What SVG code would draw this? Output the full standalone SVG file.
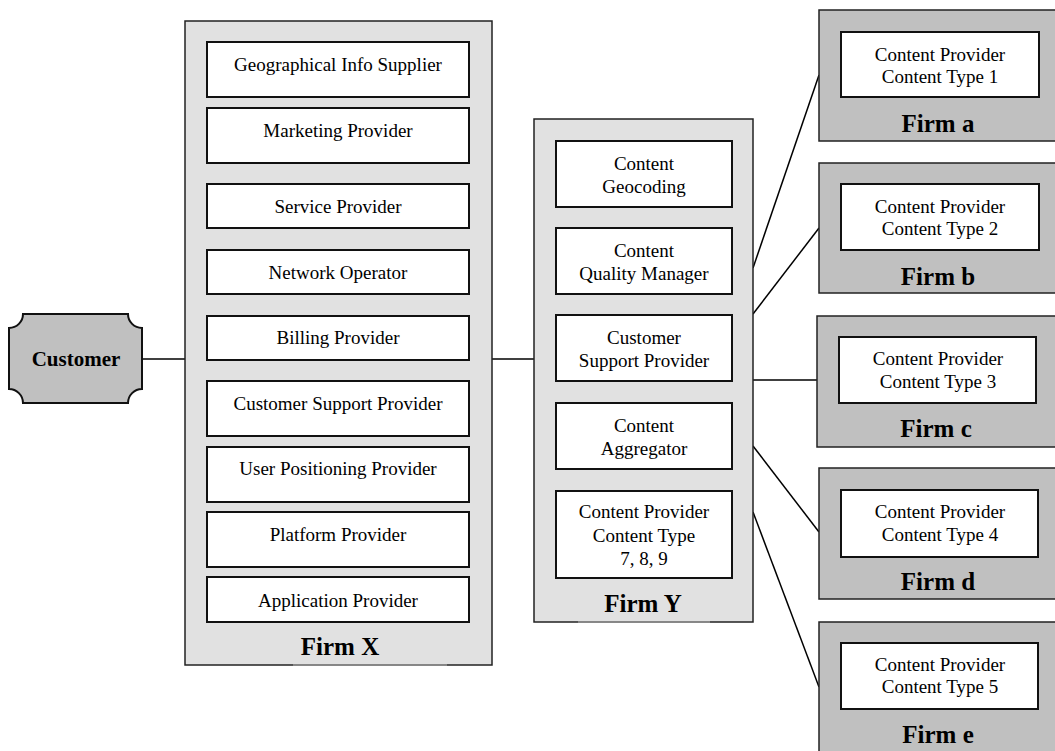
<svg xmlns="http://www.w3.org/2000/svg" width="1055" height="751" viewBox="0 0 1055 751">
<style>
  text { font-family: "Liberation Serif", "Times New Roman", serif; fill: #000; text-anchor: middle; }
  .t { font-size: 19px; }
  .lbl { font-size: 25px; font-weight: bold; }
  .cust { font-size: 21px; font-weight: bold; }
  .outerL { fill: #e1e1e1; stroke: #222; stroke-width: 1.5; }
  .outerD { fill: #c0c0c0; stroke: #222; stroke-width: 1.5; }
  .inner { fill: #fff; stroke: #111; stroke-width: 2; }
  .conn line { stroke: #000; stroke-width: 1.5; }
</style>
<rect width="1055" height="751" fill="#fff"/>

<g class="conn" id="connectors">
  <line x1="142" y1="359" x2="185" y2="359"/>
  <line x1="492" y1="359" x2="534" y2="359"/>
  <line x1="753" y1="268" x2="819" y2="75"/>
  <line x1="753" y1="314" x2="819" y2="228"/>
  <line x1="753" y1="380" x2="817" y2="380"/>
  <line x1="753" y1="446" x2="819" y2="532"/>
  <line x1="753" y1="512" x2="819" y2="687"/>
</g>

<g id="customer">
  <path d="M23,314 L128,314 A14,14 0 0 0 142,328 L142,389 A14,14 0 0 0 128,403 L23,403 A14,14 0 0 0 9,389 L9,328 A14,14 0 0 0 23,314 Z" fill="#c0c0c0" stroke="#111" stroke-width="2"/>
  <text class="cust" x="76" y="366">Customer</text>
</g>

<g id="firmX">
  <rect class="outerL" x="185" y="21" width="307" height="644"/>
  <line x1="293" y1="665" x2="447" y2="665" stroke="#999" stroke-width="1.5"/>
  <text class="lbl" x="340" y="655">Firm X</text>
</g>
<g id="x-geo"><rect class="inner" x="207" y="42" width="262" height="55"/><text class="t" x="338" y="71">Geographical Info Supplier</text></g>
<g id="x-marketing"><rect class="inner" x="207" y="108" width="262" height="55"/><text class="t" x="338" y="137">Marketing Provider</text></g>
<g id="x-service"><rect class="inner" x="207" y="184" width="262" height="44"/><text class="t" x="338" y="213">Service Provider</text></g>
<g id="x-network"><rect class="inner" x="207" y="250" width="262" height="44"/><text class="t" x="338" y="279">Network Operator</text></g>
<g id="x-billing"><rect class="inner" x="207" y="316" width="262" height="44"/><text class="t" x="338" y="344">Billing Provider</text></g>
<g id="x-custsupport"><rect class="inner" x="207" y="381" width="262" height="55"/><text class="t" x="338" y="410">Customer Support Provider</text></g>
<g id="x-userpos"><rect class="inner" x="207" y="447" width="262" height="55"/><text class="t" x="338" y="475">User Positioning Provider</text></g>
<g id="x-platform"><rect class="inner" x="207" y="512" width="262" height="55"/><text class="t" x="338" y="541">Platform Provider</text></g>
<g id="x-application"><rect class="inner" x="207" y="577" width="262" height="45"/><text class="t" x="338" y="607">Application Provider</text></g>

<g id="firmY">
  <rect class="outerL" x="534" y="119" width="219" height="503"/>
  <line x1="578" y1="622" x2="710" y2="622" stroke="#999" stroke-width="1.5"/>
  <text class="lbl" x="643" y="612">Firm Y</text>
</g>
<g id="y-geocoding"><rect class="inner" x="556" y="141" width="176" height="66"/><text class="t" x="644" y="170">Content</text><text class="t" x="644" y="193">Geocoding</text></g>
<g id="y-quality"><rect class="inner" x="556" y="228" width="176" height="66"/><text class="t" x="644" y="257">Content</text><text class="t" x="644" y="280">Quality Manager</text></g>
<g id="y-custsupport"><rect class="inner" x="556" y="315" width="176" height="66"/><text class="t" x="644" y="344">Customer</text><text class="t" x="644" y="367">Support Provider</text></g>
<g id="y-aggregator"><rect class="inner" x="556" y="403" width="176" height="66"/><text class="t" x="644" y="432">Content</text><text class="t" x="644" y="455">Aggregator</text></g>
<g id="y-provider789"><rect class="inner" x="556" y="491" width="176" height="87"/><text class="t" x="644" y="518">Content Provider</text><text class="t" x="644" y="542">Content Type</text><text class="t" x="644" y="565">7, 8, 9</text></g>

<g id="firmA">
  <rect class="outerD" x="819" y="10" width="250" height="131"/>
  <rect class="inner" x="841" y="32" width="198" height="65"/>
  <text class="t" x="940" y="61">Content Provider</text><text class="t" x="940" y="83">Content Type 1</text>
  <text class="lbl" x="938" y="132">Firm a</text>
</g>
<g id="firmB">
  <rect class="outerD" x="819" y="163" width="250" height="130"/>
  <rect class="inner" x="841" y="184" width="198" height="66"/>
  <text class="t" x="940" y="213">Content Provider</text><text class="t" x="940" y="235">Content Type 2</text>
  <text class="lbl" x="938" y="285">Firm b</text>
</g>
<g id="firmC">
  <rect class="outerD" x="817" y="316" width="250" height="131"/>
  <rect class="inner" x="839" y="337" width="197" height="66"/>
  <text class="t" x="938" y="365">Content Provider</text><text class="t" x="938" y="388">Content Type 3</text>
  <text class="lbl" x="936" y="437">Firm c</text>
</g>
<g id="firmD">
  <rect class="outerD" x="819" y="468" width="250" height="131"/>
  <rect class="inner" x="841" y="490" width="197" height="67"/>
  <text class="t" x="940" y="518">Content Provider</text><text class="t" x="940" y="541">Content Type 4</text>
  <text class="lbl" x="938" y="590">Firm d</text>
</g>
<g id="firmE">
  <rect class="outerD" x="819" y="622" width="250" height="140"/>
  <rect class="inner" x="841" y="643" width="197" height="66"/>
  <text class="t" x="940" y="671">Content Provider</text><text class="t" x="940" y="693">Content Type 5</text>
  <text class="lbl" x="938" y="743">Firm e</text>
</g>
</svg>
